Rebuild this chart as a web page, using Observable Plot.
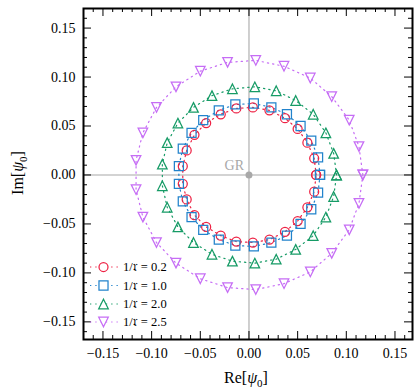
<!DOCTYPE html>
<html><head><meta charset="utf-8">
<script src="https://cdn.jsdelivr.net/npm/d3@7"></script>
<script src="https://cdn.jsdelivr.net/npm/@observablehq/plot@0.6"></script>
<style>html,body{margin:0;padding:0;background:#fff} svg{display:block}</style>
</head><body><div id="chart"></div>
<script>
// ---- data ----
const seriesLabels = ["1/𝔯 = 0.2", "1/𝔯 = 1.0", "1/𝔯 = 2.0", "1/𝔯 = 2.5"];
const seriesColors = ["#ee2244", "#2283cc", "#169b66", "#c66df5"];

const re02 = [0.069, 0.067, 0.060, 0.050, 0.037, 0.021, 0.004, -0.013, -0.029, -0.044, -0.056, -0.064, -0.068, -0.068, -0.064, -0.056, -0.044, -0.029, -0.013, 0.004, 0.021, 0.037, 0.050, 0.060, 0.067];
const im02 = [0.000, 0.017, 0.033, 0.047, 0.058, 0.066, 0.069, 0.068, 0.062, 0.053, 0.041, 0.025, 0.009, -0.009, -0.025, -0.041, -0.053, -0.062, -0.068, -0.069, -0.066, -0.058, -0.047, -0.033, -0.017];

const re10 = [0.073, 0.071, 0.064, 0.053, 0.039, 0.023, 0.005, -0.014, -0.031, -0.047, -0.059, -0.068, -0.072, -0.072, -0.068, -0.059, -0.047, -0.031, -0.014, 0.005, 0.023, 0.039, 0.053, 0.064, 0.071];
const im10 = [0.000, 0.018, 0.035, 0.050, 0.062, 0.069, 0.073, 0.072, 0.066, 0.056, 0.043, 0.027, 0.009, -0.009, -0.027, -0.043, -0.056, -0.066, -0.072, -0.073, -0.069, -0.062, -0.050, -0.035, -0.018];

const re20 = [0.090, 0.087, 0.079, 0.066, 0.048, 0.028, 0.006, -0.017, -0.038, -0.057, -0.073, -0.084, -0.089, -0.089, -0.084, -0.073, -0.057, -0.038, -0.017, 0.006, 0.028, 0.048, 0.066, 0.079, 0.087];
const im20 = [0.000, 0.022, 0.043, 0.062, 0.076, 0.086, 0.090, 0.088, 0.081, 0.069, 0.053, 0.033, 0.011, -0.011, -0.033, -0.053, -0.069, -0.081, -0.088, -0.090, -0.086, -0.076, -0.062, -0.043, -0.022];

const re25 = [0.117, 0.113, 0.103, 0.085, 0.063, 0.036, 0.007, -0.022, -0.050, -0.075, -0.095, -0.109, -0.116, -0.116, -0.109, -0.095, -0.075, -0.050, -0.022, 0.007, 0.036, 0.063, 0.085, 0.103, 0.113];
const im25 = [0.000, 0.029, 0.056, 0.080, 0.099, 0.111, 0.117, 0.115, 0.106, 0.090, 0.069, 0.043, 0.015, -0.015, -0.043, -0.069, -0.090, -0.106, -0.115, -0.117, -0.111, -0.099, -0.080, -0.056, -0.029];

const majorTicks = [-0.15, -0.10, -0.05, 0.00, 0.05, 0.10, 0.15];
const minorTicks = [-0.16, -0.14, -0.13, -0.12, -0.11, -0.09, -0.08, -0.07, -0.06, -0.04, -0.03, -0.02, -0.01,
                    0.01, 0.02, 0.03, 0.04, 0.06, 0.07, 0.08, 0.09, 0.11, 0.12, 0.13, 0.14, 0.16];
const grPoint = [{re: 0, im: 0}];

// ---- layout ----
const W = 415, H = 390;
const mL = 83, mR = 3, mT = 8, mB = 51;
const pW = W - mL - mR, pH = H - mT - mB;
const font = "'Liberation Serif', 'DejaVu Serif', serif";

function rows(re, im) {
  const r = re.map((v, i) => ({re: v, im: im[i]}));
  r.push(r[0]); // close the ring
  return r;
}
const data = [rows(re02, im02), rows(re10, im10), rows(re20, im20), rows(re25, im25)];

const triUp = {draw(ctx, size) { const h = Math.sqrt(size); ctx.moveTo(0, -h / 2); ctx.lineTo(h / 2, h / 2); ctx.lineTo(-h / 2, h / 2); ctx.closePath(); }};
const triDown = {draw(ctx, size) { const h = Math.sqrt(size); ctx.moveTo(0, h / 2); ctx.lineTo(h / 2, -h / 2); ctx.lineTo(-h / 2, -h / 2); ctx.closePath(); }};
const symbols = ["circle", "square", triUp, triDown];
const radii = [4.5, 5.1, 5.4, 5.4];

const dash = "1.3,4";
const marks = [
  Plot.ruleX([0], {stroke: "#c4c4c4", strokeWidth: 1.6}),
  Plot.ruleY([0], {stroke: "#c4c4c4", strokeWidth: 1.6}),
  Plot.dot(grPoint, {x: "re", y: "im", r: 3.5, fill: "#a8a8a8", stroke: "none"}),
  Plot.text(grPoint, {x: "re", y: "im", text: () => "GR", dx: -5, dy: -9, textAnchor: "end", fill: "#a8a8a8", fontSize: 14, fontFamily: font})
];
data.forEach((d, i) => {
  marks.push(Plot.line(d, {x: "re", y: "im", stroke: seriesColors[i], strokeWidth: 1.2, strokeDasharray: dash}));
});
data.forEach((d, i) => {
  marks.push(Plot.dot(d, {x: "re", y: "im", symbol: symbols[i], r: radii[i], stroke: seriesColors[i], fill: "none", strokeWidth: 1.25}));
});
// inward ticks on all four sides
const tk = {stroke: "black", strokeWidth: 1};
marks.push(
  Plot.tickX(majorTicks, {x: d => d, insetTop: pH - 8, ...tk}),
  Plot.tickX(majorTicks, {x: d => d, insetBottom: pH - 8, ...tk}),
  Plot.tickX(minorTicks, {x: d => d, insetTop: pH - 4, ...tk}),
  Plot.tickX(minorTicks, {x: d => d, insetBottom: pH - 4, ...tk}),
  Plot.tickY(majorTicks, {y: d => d, insetRight: pW - 8, ...tk}),
  Plot.tickY(majorTicks, {y: d => d, insetLeft: pW - 8, ...tk}),
  Plot.tickY(minorTicks, {y: d => d, insetRight: pW - 4, ...tk}),
  Plot.tickY(minorTicks, {y: d => d, insetLeft: pW - 4, ...tk}),
  Plot.axisX({ticks: majorTicks, tickSize: 0, tickPadding: 9, tickFormat: d3.format(".2f"), fontSize: 14, fontFamily: font, label: null}),
  Plot.axisY({ticks: majorTicks, tickSize: 0, tickPadding: 8, tickFormat: d3.format(".2f"), fontSize: 14, fontFamily: font, label: null}),
  Plot.frame({stroke: "black", strokeWidth: 2})
);

const chart = Plot.plot({
  width: W, height: H,
  marginLeft: mL, marginRight: mR, marginTop: mT, marginBottom: mB,
  x: {domain: [-0.17, 0.168]},
  y: {domain: [-0.168, 0.17]},
  style: {fontFamily: font, fontSize: "14px", background: "#fff", color: "black"},
  marks
});
document.getElementById("chart").appendChild(chart);

// ---- axis titles and in-frame legend ----
const svg = d3.select(chart);
function psiLabel(sel, prefix) {
  sel.append("tspan").text(prefix + "[");
  sel.append("tspan").attr("font-style", "italic").text("ψ");
  sel.append("tspan").attr("font-size", "11px").attr("dy", 3.5).text("0");
  sel.append("tspan").attr("dy", -3.5).text("]");
}
svg.append("text").attr("x", 246).attr("y", 383).attr("text-anchor", "middle")
  .attr("font-family", font).attr("font-size", 16).attr("fill", "black").call(s => psiLabel(s, "Re"));
svg.append("text").attr("transform", "translate(23,173) rotate(-90)").attr("text-anchor", "middle")
  .attr("font-family", font).attr("font-size", 16).attr("fill", "black").call(s => psiLabel(s, "Im"));

const lg = svg.append("g");
const rowY = [267, 285.5, 304, 322];
seriesLabels.forEach((lab, i) => {
  const y = rowY[i];
  lg.append("line").attr("x1", 90).attr("x2", 118).attr("y1", y).attr("y2", y)
    .attr("stroke", seriesColors[i]).attr("stroke-width", 1.2).attr("stroke-dasharray", dash);
  const sym = typeof symbols[i] === "string" ? (symbols[i] === "circle" ? d3.symbolCircle : d3.symbolSquare) : symbols[i];
  lg.append("path").attr("transform", `translate(103.5,${y})`)
    .attr("d", d3.symbol(sym, Math.PI * radii[i] * radii[i])())
    .attr("fill", "white").attr("stroke", seriesColors[i]).attr("stroke-width", 1.25);
  lg.append("text").attr("x", 123).attr("y", y).attr("dy", "0.35em").attr("text-anchor", "start")
    .attr("font-family", font).attr("font-size", 12.5).attr("fill", "black").text(lab);
});
</script>
</body></html>
